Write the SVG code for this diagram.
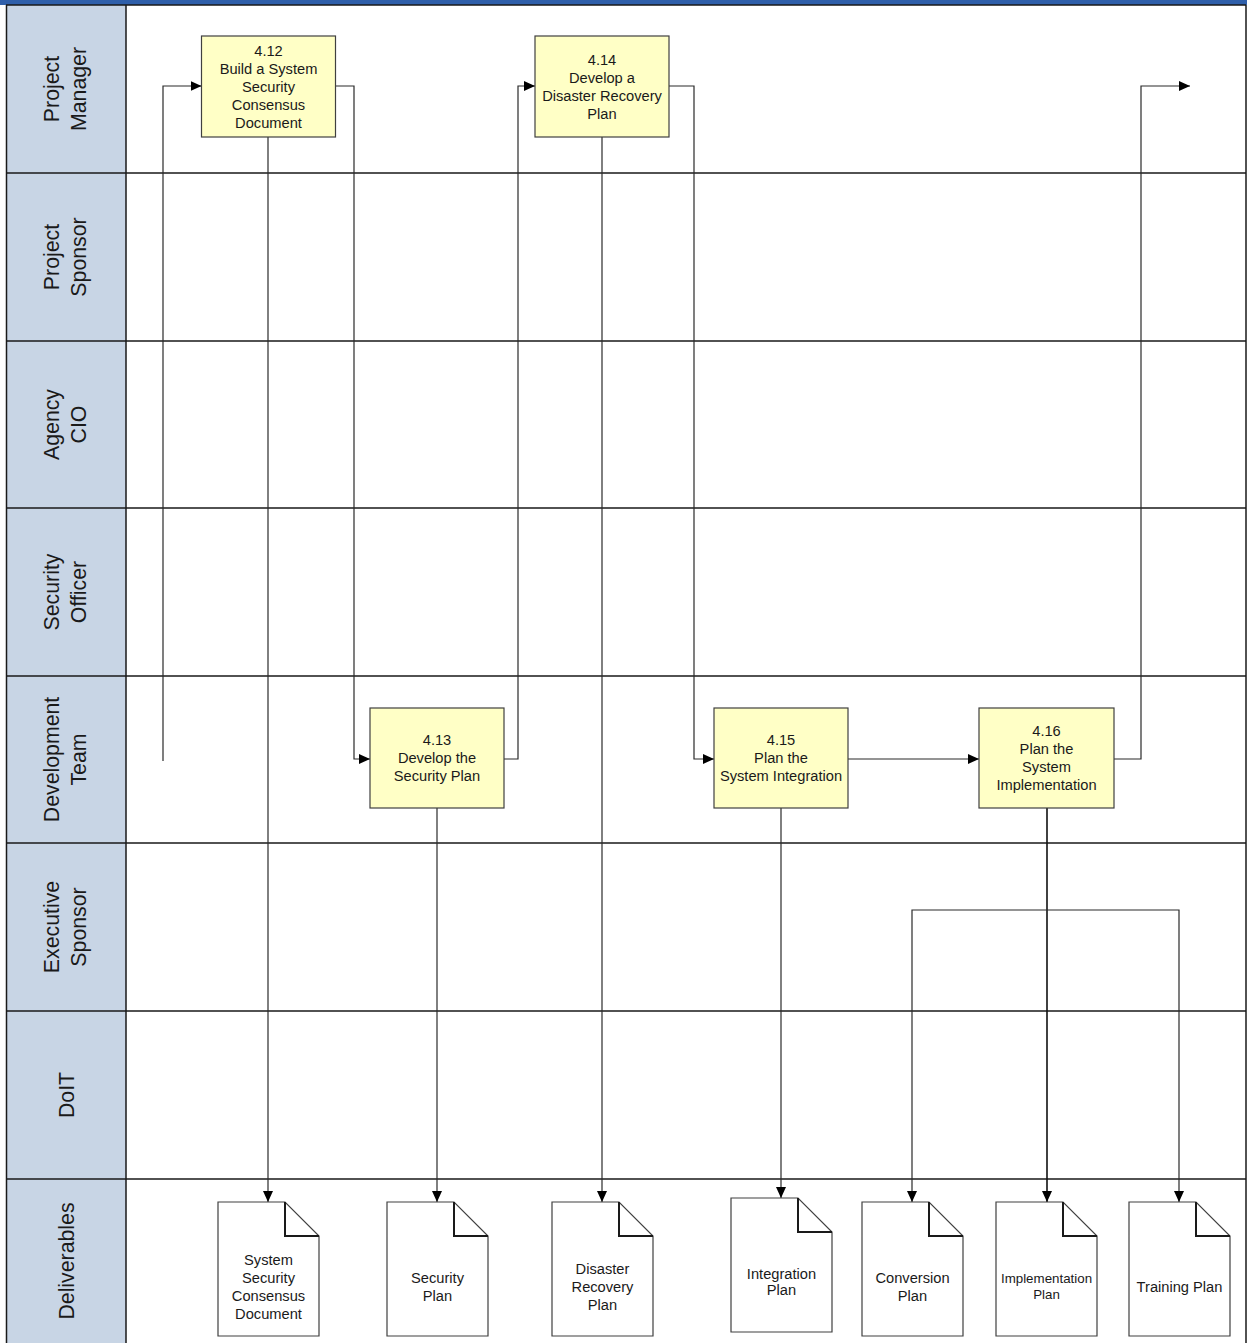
<svg xmlns="http://www.w3.org/2000/svg" width="1247" height="1343" viewBox="0 0 1247 1343">
<style>
.lanehead{fill:#c8d5e5;stroke:none}
.sep{stroke:#1a1a1a;stroke-width:1.5;fill:none}
.lanelbl{font-family:"Liberation Sans",Arial,sans-serif;font-size:21.3px;fill:#1a1a1a;text-anchor:middle}
.node rect{fill:#ffffc6;stroke:#404040;stroke-width:1.2}
.node text,.doc text{font-family:"Liberation Sans",Arial,sans-serif;font-size:14.67px;fill:#1a1a1a;text-anchor:middle}
.doc .body{fill:#ffffff;stroke:#404040;stroke-width:1.2}
.doc .fold{fill:none;stroke:#1a1a1a;stroke-width:2}
.conn path{fill:none;stroke:#2a2a2a;stroke-width:1.2}
</style>
<defs>
<marker id="arr" markerUnits="userSpaceOnUse" markerWidth="12" markerHeight="11" refX="11" refY="5" orient="auto">
<path d="M0,0 L11,5 L0,10 z" fill="#000"/>
</marker>
</defs>
<rect x="0" y="0" width="1247" height="1343" fill="#ffffff"/>
<rect x="0" y="0" width="1247" height="5" fill="#2f5faa"/>
<g id="lanes">
<rect class="lanehead" x="7" y="5" width="119" height="1338"/>
<path class="sep" d="M6,5 H1246 M6,173 H1246 M6,341 H1246 M6,508 H1246 M6,676 H1246 M6,843 H1246 M6,1011 H1246 M6,1179 H1246"/>
<path class="sep" d="M6.5,5 V1343 M126,5 V1343 M1246,5 V1343"/>
<text class="lanelbl" transform="translate(66,89) rotate(-90)"><tspan x="0" y="-7">Project</tspan><tspan x="0" y="19.5">Manager</tspan></text>
<text class="lanelbl" transform="translate(66,257) rotate(-90)"><tspan x="0" y="-7">Project</tspan><tspan x="0" y="19.5">Sponsor</tspan></text>
<text class="lanelbl" transform="translate(66,424.5) rotate(-90)"><tspan x="0" y="-7">Agency</tspan><tspan x="0" y="19.5">CIO</tspan></text>
<text class="lanelbl" transform="translate(66,592) rotate(-90)"><tspan x="0" y="-7">Security</tspan><tspan x="0" y="19.5">Officer</tspan></text>
<text class="lanelbl" transform="translate(66,759.5) rotate(-90)"><tspan x="0" y="-7">Development</tspan><tspan x="0" y="19.5">Team</tspan></text>
<text class="lanelbl" transform="translate(66,927) rotate(-90)"><tspan x="0" y="-7">Executive</tspan><tspan x="0" y="19.5">Sponsor</tspan></text>
<text class="lanelbl" transform="translate(66,1095) rotate(-90)"><tspan x="0" y="7.6">DoIT</tspan></text>
<text class="lanelbl" transform="translate(66,1261) rotate(-90)"><tspan x="0" y="7.6">Deliverables</tspan></text>
</g>
<g id="connectors" class="conn">
<path d="M163,761 V86 H201.5" marker-end="url(#arr)"/>
<path d="M335.5,86 H354 V759 H370" marker-end="url(#arr)"/>
<path d="M268,137 V1202" marker-end="url(#arr)"/>
<path d="M504,759 H518 V86 H535" marker-end="url(#arr)"/>
<path d="M437,808 V1202" marker-end="url(#arr)"/>
<path d="M669,86 H694 V759 H714" marker-end="url(#arr)"/>
<path d="M602,137 V1202" marker-end="url(#arr)"/>
<path d="M848,759 H979" marker-end="url(#arr)"/>
<path d="M781,808 V1198" marker-end="url(#arr)"/>
<path d="M1114,759 H1141 V86 H1190" marker-end="url(#arr)"/>
<path d="M1047,808 V1202" style="stroke-width:1.6;stroke:#111" marker-end="url(#arr)"/>
<path d="M1047,910 H912 V1202" marker-end="url(#arr)"/>
<path d="M1047,910 H1179 V1202" marker-end="url(#arr)"/>
</g>
<g id="n412" class="node">
<rect x="201.5" y="36" width="134" height="101"/>
<text><tspan x="268.5" y="55.5">4.12</tspan><tspan x="268.5" y="73.5">Build a System</tspan><tspan x="268.5" y="91.5">Security</tspan><tspan x="268.5" y="109.5">Consensus</tspan><tspan x="268.5" y="127.5">Document</tspan></text>
</g>
<g id="n414" class="node">
<rect x="535" y="36" width="134" height="101"/>
<text><tspan x="602" y="64.8">4.14</tspan><tspan x="602" y="82.8">Develop a</tspan><tspan x="602" y="100.8">Disaster Recovery</tspan><tspan x="602" y="118.8">Plan</tspan></text>
</g>
<g id="n413" class="node">
<rect x="370" y="708" width="134" height="100"/>
<text><tspan x="437" y="745.3">4.13</tspan><tspan x="437" y="763.3">Develop the</tspan><tspan x="437" y="781.3">Security Plan</tspan></text>
</g>
<g id="n415" class="node">
<rect x="714" y="708" width="134" height="100"/>
<text><tspan x="781" y="745.3">4.15</tspan><tspan x="781" y="763.3">Plan the</tspan><tspan x="781" y="781.3">System Integration</tspan></text>
</g>
<g id="n416" class="node">
<rect x="979" y="708" width="135" height="100"/>
<text><tspan x="1046.5" y="736.3">4.16</tspan><tspan x="1046.5" y="754.3">Plan the</tspan><tspan x="1046.5" y="772.3">System</tspan><tspan x="1046.5" y="790.3">Implementation</tspan></text>
</g>
<g id="d1" class="doc">
<path class="body" d="M218,1202 h67 l34,34 v100 h-101 z"/>
<path class="fold" d="M285,1202 v34 h34"/>
<text><tspan x="268.5" y="1264.8">System</tspan><tspan x="268.5" y="1282.8">Security</tspan><tspan x="268.5" y="1300.8">Consensus</tspan><tspan x="268.5" y="1318.8">Document</tspan></text>
</g>
<g id="d2" class="doc">
<path class="body" d="M387,1202 h67 l34,34 v100 h-101 z"/>
<path class="fold" d="M454,1202 v34 h34"/>
<text><tspan x="437.5" y="1282.8">Security</tspan><tspan x="437.5" y="1300.8">Plan</tspan></text>
</g>
<g id="d3" class="doc">
<path class="body" d="M552,1202 h67 l34,34 v100 h-101 z"/>
<path class="fold" d="M619,1202 v34 h34"/>
<text><tspan x="602.5" y="1273.8">Disaster</tspan><tspan x="602.5" y="1291.8">Recovery</tspan><tspan x="602.5" y="1309.8">Plan</tspan></text>
</g>
<g id="d4" class="doc">
<path class="body" d="M731,1198 h67 l34,34 v100 h-101 z"/>
<path class="fold" d="M798,1198 v34 h34"/>
<text><tspan x="781.5" y="1278.5">Integration</tspan><tspan x="781.5" y="1295">Plan</tspan></text>
</g>
<g id="d5" class="doc">
<path class="body" d="M862,1202 h67 l34,34 v100 h-101 z"/>
<path class="fold" d="M929,1202 v34 h34"/>
<text><tspan x="912.5" y="1282.8">Conversion</tspan><tspan x="912.5" y="1300.8">Plan</tspan></text>
</g>
<g id="d6" class="doc">
<path class="body" d="M996,1202 h67 l34,34 v100 h-101 z"/>
<path class="fold" d="M1063,1202 v34 h34"/>
<text style="font-size:13.33px"><tspan x="1046.5" y="1283.1">Implementation</tspan><tspan x="1046.5" y="1298.8">Plan</tspan></text>
</g>
<g id="d7" class="doc">
<path class="body" d="M1129,1202 h67 l34,34 v100 h-101 z"/>
<path class="fold" d="M1196,1202 v34 h34"/>
<text><tspan x="1179.5" y="1291.8">Training Plan</tspan></text>
</g>
</svg>
